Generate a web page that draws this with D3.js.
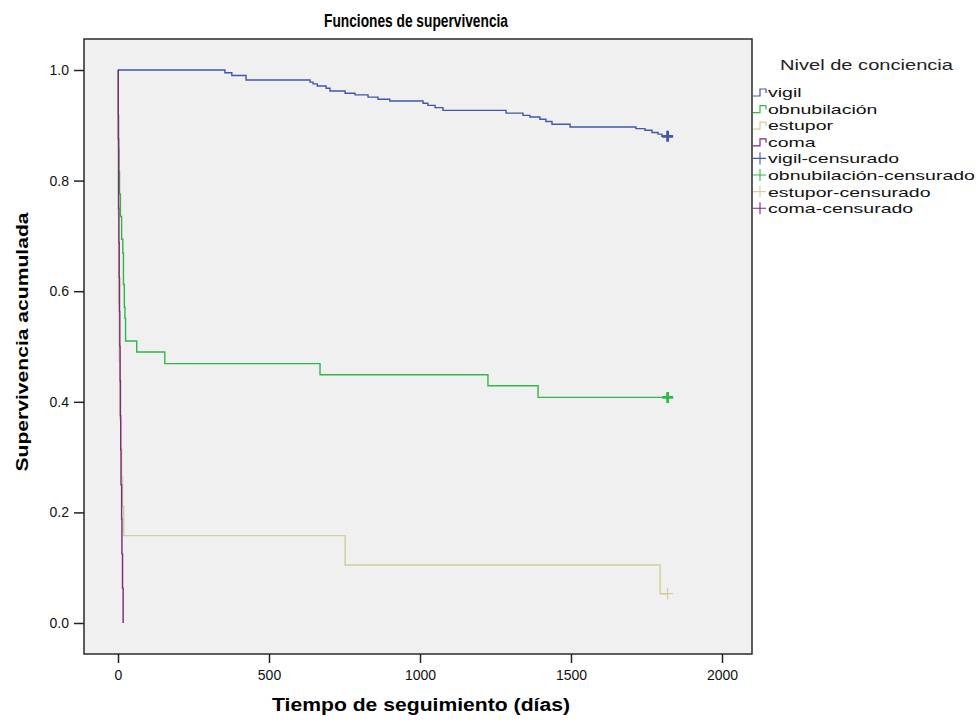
<!DOCTYPE html>
<html>
<head>
<meta charset="utf-8">
<script src="https://cdn.jsdelivr.net/npm/d3@7"></script>
<style>
  body { margin: 0; background: #fff; }
  text { font-family: "Liberation Sans", Arial, sans-serif; }
</style>
</head>
<body>
<svg id="chart" width="978" height="728"></svg>
<script>
// survival curves (Kaplan-Meier)
var groups = ['vigil', 'obnubilación', 'estupor', 'coma'];
var groupColors = ['#3e58ac', '#2eb848', '#d3ce97', '#7c287d'];

var vigilTime = [0, 354, 377, 424, 636, 646, 660, 689, 702, 752, 785, 828, 861, 900, 1010, 1026, 1050, 1076, 1285, 1341, 1364, 1397, 1417, 1437, 1497, 1715, 1745, 1768, 1788, 1801, 1820];
var vigilSurv = [1, 0.995, 0.99, 0.982, 0.978, 0.975, 0.971, 0.967, 0.962, 0.958, 0.955, 0.951, 0.947, 0.944, 0.940, 0.936, 0.932, 0.927, 0.922, 0.918, 0.915, 0.911, 0.907, 0.902, 0.897, 0.894, 0.891, 0.887, 0.884, 0.880, 0.880];

var obnubTime = [0, 1, 2, 3, 5, 8, 12, 16, 18, 21, 23, 25, 62, 155, 669, 1225, 1391, 1820];
var obnubSurv = [1, 0.918, 0.857, 0.816, 0.776, 0.735, 0.694, 0.669, 0.612, 0.571, 0.551, 0.510, 0.490, 0.469, 0.449, 0.429, 0.408, 0.408];

var estuporTime = [0, 1, 2, 4, 6, 9, 12, 15, 19, 752, 1795, 1820];
var estuporSurv = [1, 0.737, 0.579, 0.474, 0.368, 0.316, 0.263, 0.211, 0.158, 0.105, 0.053, 0.053];

var comaTime = [0, 1, 2, 3, 4, 5, 6, 7, 8, 9, 10, 12, 13, 15, 17];
var comaSurv = [1, 0.875, 0.75, 0.688, 0.625, 0.563, 0.5, 0.438, 0.375, 0.313, 0.25, 0.188, 0.125, 0.063, 0];

// censored cases (time, survival)
var censorTime = [1820, 1820, 1820];
var censorSurv = [0.880, 0.408, 0.053];
var censorGroup = [0, 1, 2];

var xTicks = [0, 500, 1000, 1500, 2000];
var yTicks = [0, 0.2, 0.4, 0.6, 0.8, 1.0];

var svg = d3.select('#chart');

var frame = {left: 84, right: 752, top: 39, bottom: 654};

var x = d3.scaleLinear().domain([0, 2000]).range([118, 722]);
var y = d3.scaleLinear().domain([0, 1]).range([623, 70]);

// plot background
svg.append('rect')
  .attr('x', frame.left).attr('y', frame.top)
  .attr('width', frame.right - frame.left)
  .attr('height', frame.bottom - frame.top)
  .attr('fill', '#f0f0f0')
  .attr('stroke', '#2a2a2a')
  .attr('stroke-width', 1.5);

// axes
var xAxis = svg.append('g')
  .attr('transform', 'translate(0,' + frame.bottom + ')')
  .call(d3.axisBottom(x).tickValues(xTicks).tickSize(9).tickPadding(7).tickFormat(d3.format('d')));
var yAxis = svg.append('g')
  .attr('transform', 'translate(' + frame.left + ',0)')
  .call(d3.axisLeft(y).tickValues(yTicks).tickSize(10).tickPadding(5).tickFormat(d3.format('.1f')));

[xAxis, yAxis].forEach(function(a) {
  a.select('.domain').remove();
  a.selectAll('line').attr('stroke', '#222').attr('stroke-width', 1.5);
  a.selectAll('text').attr('font-size', 14).attr('fill', '#111')
    .style('font-family', '"Liberation Sans", Arial, sans-serif');
});

// curves
var line = d3.line()
  .x(function(d) { return x(d[0]); })
  .y(function(d) { return y(d[1]); })
  .curve(d3.curveStepAfter);

var series = [
  d3.zip(vigilTime, vigilSurv),
  d3.zip(obnubTime, obnubSurv),
  d3.zip(estuporTime, estuporSurv),
  d3.zip(comaTime, comaSurv)
];

// draw order: estupor, obnubilación, vigil, coma on top
[2, 1, 0, 3].forEach(function(i) {
  svg.append('path')
    .datum(series[i])
    .attr('d', line)
    .attr('fill', 'none')
    .attr('stroke', groupColors[i])
    .attr('stroke-width', 1.4);
});

// censor marks
var plusSize = 5.5;
censorTime.forEach(function(t, k) {
  var g = censorGroup[k];
  var cx = x(t), cy = y(censorSurv[k]);
  var w = g == 2 ? 1.2 : 2.8;
  svg.append('path')
    .attr('d', 'M' + (cx - plusSize) + ',' + cy + 'H' + (cx + plusSize) +
               'M' + cx + ',' + (cy - plusSize) + 'V' + (cy + plusSize))
    .attr('stroke', groupColors[g])
    .attr('stroke-width', w)
    .attr('fill', 'none');
});

// titles (textLength keeps the widths of the original)
svg.append('text')
  .attr('x', 416).attr('y', 27)
  .attr('text-anchor', 'middle')
  .attr('font-size', 19).attr('font-weight', 'bold')
  .attr('textLength', 184).attr('lengthAdjust', 'spacingAndGlyphs')
  .text('Funciones de supervivencia');

svg.append('text')
  .attr('x', 421).attr('y', 711)
  .attr('text-anchor', 'middle')
  .attr('font-size', 18).attr('font-weight', 'bold')
  .attr('textLength', 298).attr('lengthAdjust', 'spacingAndGlyphs')
  .text('Tiempo de seguimiento (días)');

svg.append('text')
  .attr('transform', 'translate(28,342) rotate(-90)')
  .attr('text-anchor', 'middle')
  .attr('font-size', 17).attr('font-weight', 'bold')
  .attr('textLength', 259).attr('lengthAdjust', 'spacingAndGlyphs')
  .text('Supervivencia acumulada');

// legend
var lx = 753, ly0 = 92, lstep = 16.6, sx = 1.5;
svg.append('text')
  .attr('x', 780).attr('y', 70)
  .attr('font-size', 15)
  .attr('fill', '#222')
  .attr('textLength', 173).attr('lengthAdjust', 'spacingAndGlyphs')
  .text('Nivel de conciencia');

function legendText(label, ly) {
  svg.append('text')
    .attr('transform', 'translate(' + (lx + 15) + ',' + (ly + 5) + ') scale(' + sx + ',1)')
    .attr('font-size', 13)
    .attr('fill', '#111')
    .text(label);
}

groups.forEach(function(name, i) {
  var ly = ly0 + i * lstep;
  svg.append('path')
    .attr('d', 'M' + lx + ',' + (ly + 4) + 'H' + (lx + 7) + 'V' + (ly - 3) + 'H' + (lx + 13) + 'V' + (ly + 1))
    .attr('fill', 'none')
    .attr('stroke', groupColors[i])
    .attr('stroke-width', 1.2);
  legendText(name, ly);
});

groups.forEach(function(name, i) {
  var ly = ly0 + (i + 4) * lstep;
  svg.append('path')
    .attr('d', 'M' + lx + ',' + ly + 'H' + (lx + 13) + 'M' + (lx + 7) + ',' + (ly - 6) + 'V' + (ly + 6))
    .attr('fill', 'none')
    .attr('stroke', groupColors[i])
    .attr('stroke-width', 1.1);
  legendText(name + '-censurado', ly);
});
</script>
</body>
</html>
